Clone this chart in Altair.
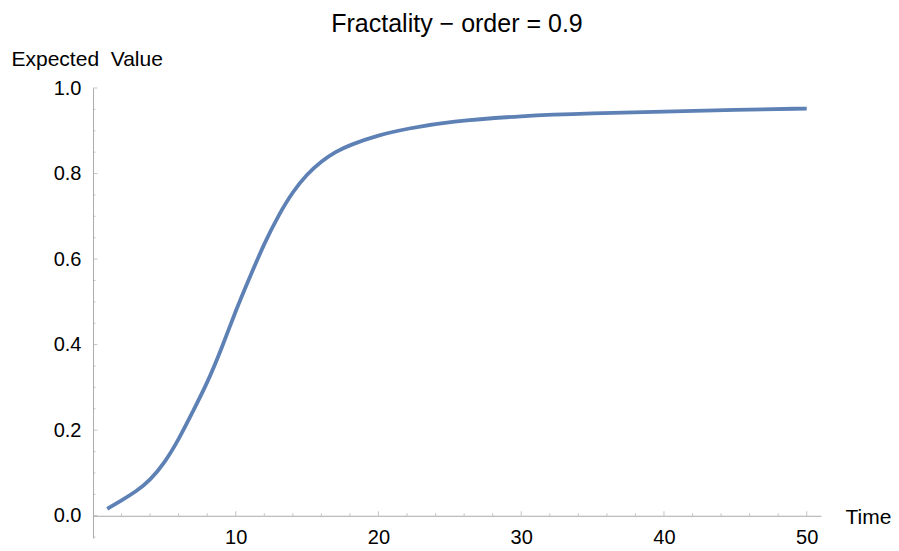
import altair as alt
import pandas as pd

# Curve values
time_vals = [1, 2, 3, 4, 5, 6, 7, 8, 9, 10, 11, 12, 13, 14, 15, 16, 17, 18, 20, 22, 25, 30, 35, 40, 45, 50]
expected_vals = [0.016, 0.036, 0.056, 0.083, 0.123, 0.178, 0.244, 0.31, 0.39, 0.48, 0.559, 0.637,
                 0.703, 0.758, 0.799, 0.829, 0.851, 0.867, 0.890, 0.905, 0.922, 0.935, 0.941,
                 0.945, 0.949, 0.952]

# Tick values
x_major = [10, 20, 30, 40, 50]
x_minor = [2, 4, 6, 8, 12, 14, 16, 18, 22, 24, 26, 28, 32, 34, 36, 38, 42, 44, 46, 48]
y_major = [0.0, 0.2, 0.4, 0.6, 0.8, 1.0]
y_minor = [-0.05, 0.05, 0.1, 0.15, 0.25, 0.3, 0.35, 0.45, 0.5, 0.55, 0.65, 0.7, 0.75, 0.85, 0.9, 0.95]

FONT = "Liberation Sans"
AXIS_COL = "#ababab"
LINE_COL = "#5E81B5"

XDOM = [0, 51]
YDOM = [-0.052, 1.0]
W, H = 728, 450
x_offset = -(H - H * (1.0 / (YDOM[1] - YDOM[0])))  # axis at y=0

df = pd.DataFrame({"t": time_vals, "v": expected_vals})

xscale = alt.Scale(domain=XDOM, nice=False, zero=False)
yscale = alt.Scale(domain=YDOM, nice=False, zero=False)

xaxis = alt.Axis(
    values=x_major, ticks=False, offset=x_offset, domainColor=AXIS_COL,
    labelFont=FONT, labelFontSize=20, labelColor="black", labelPadding=12,
    grid=False, title="Time", titleFont=FONT, titleFontSize=21, titleFontWeight="normal",
    titleColor="black", titleAlign="left", titleBaseline="alphabetic", titleAngle=0,
    titleX=752, titleY=8)
yaxis = alt.Axis(
    values=y_major, format=".1f", ticks=False, domainColor=AXIS_COL,
    labelFont=FONT, labelFontSize=20, labelColor="black", labelPadding=12,
    grid=False, title="Expected\u00a0\u00a0Value", titleFont=FONT, titleFontSize=21,
    titleFontWeight="normal", titleColor="black", titleAngle=0, titleAlign="left",
    titleBaseline="alphabetic", titleX=-82, titleY=-23)

line = alt.Chart(df).mark_line(color=LINE_COL, strokeWidth=3.8, interpolate="basis").encode(
    x=alt.X("t:Q", scale=xscale, axis=xaxis),
    y=alt.Y("v:Q", scale=yscale, axis=yaxis),
)

ymaj = alt.Chart(pd.DataFrame({"v": y_major, "t": [0] * len(y_major)})).mark_tick(
    orient="horizontal", size=4.5, thickness=1, xOffset=2.25, color=AXIS_COL).encode(
    y=alt.Y("v:Q", scale=yscale, axis=yaxis), x=alt.X("t:Q", scale=xscale, axis=xaxis))
ymin = alt.Chart(pd.DataFrame({"v": y_minor, "t": [0] * len(y_minor)})).mark_tick(
    orient="horizontal", size=2.5, thickness=1, xOffset=1.25, color=AXIS_COL).encode(
    y=alt.Y("v:Q", scale=yscale, axis=yaxis), x=alt.X("t:Q", scale=xscale, axis=xaxis))
xmaj = alt.Chart(pd.DataFrame({"t": x_major, "v": [0] * len(x_major)})).mark_tick(
    orient="vertical", size=4.5, thickness=1, yOffset=-2.25, color=AXIS_COL).encode(
    x=alt.X("t:Q", scale=xscale, axis=xaxis), y=alt.Y("v:Q", scale=yscale, axis=yaxis))
xmin = alt.Chart(pd.DataFrame({"t": x_minor, "v": [0] * len(x_minor)})).mark_tick(
    orient="vertical", size=2.5, thickness=1, yOffset=-1.25, color=AXIS_COL).encode(
    x=alt.X("t:Q", scale=xscale, axis=xaxis), y=alt.Y("v:Q", scale=yscale, axis=yaxis))

chart = alt.layer(line, ymaj, ymin, xmaj, xmin).properties(
    width=W, height=H,
    title=alt.TitleParams("Fractality − order = 0.9", font=FONT, fontSize=25,
                          fontWeight="normal", color="black", anchor="middle",
                          frame="group", offset=11),
    autosize=alt.AutoSizeParams(type="none"),
    padding={"left": 85, "top": 80, "right": 70, "bottom": 10},
    background="white",
).configure_view(stroke=None)

chart.save("out.html", embed_options={"renderer": "svg", "actions": False})
